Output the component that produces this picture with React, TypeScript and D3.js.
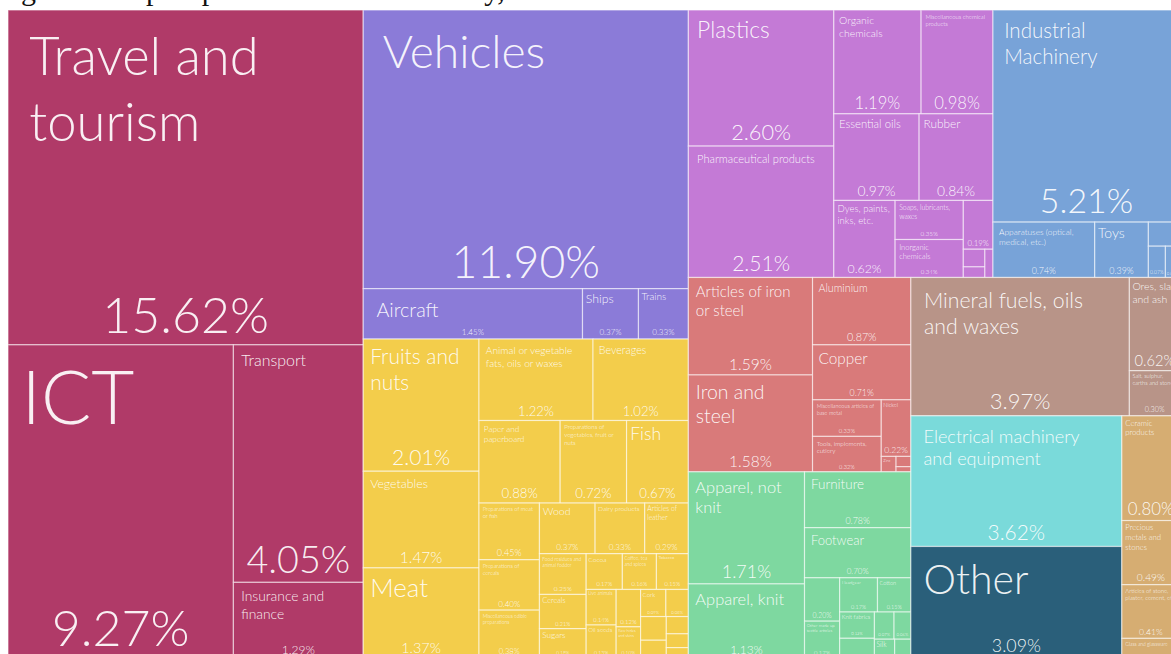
import React from "react";
import * as d3 from "d3";

type Item = { name: string; value: number };

// ---------- DATA ----------
const groupNames = [
  "Services",
  "Vehicles",
  "Foodstuffs",
  "Chemicals",
  "Machines",
  "Metals",
  "Textiles and footwear",
  "Mineral products",
  "Electrical machinery",
  "Other",
  "Stone and glass",
];

const groupColors = [
  "#b03a68",
  "#8b7bd8",
  "#f3cd4b",
  "#c47ad6",
  "#78a3d8",
  "#d97a7a",
  "#7ed8a0",
  "#b89488",
  "#7adada",
  "#2a5f7a",
  "#d6ad72",
];

const services: Item[] = [
  { name: "Travel and tourism", value: 15.62 },
  { name: "ICT", value: 9.27 },
  { name: "Transport", value: 4.05 },
  { name: "Insurance and finance", value: 1.29 },
];

const vehicles: Item[] = [
  { name: "Vehicles", value: 11.9 },
  { name: "Aircraft", value: 1.45 },
  { name: "Ships", value: 0.37 },
  { name: "Trains", value: 0.33 },
];

const foodstuffs: Item[] = [
  { name: "Fruits and nuts", value: 2.01 },
  { name: "Vegetables", value: 1.47 },
  { name: "Meat", value: 1.37 },
  { name: "Animal or vegetable fats, oils or waxes", value: 1.22 },
  { name: "Beverages", value: 1.02 },
  { name: "Paper and paperboard", value: 0.88 },
  { name: "Preparations of vegetables, fruit or nuts", value: 0.72 },
  { name: "Fish", value: 0.67 },
  { name: "Preparations of meat or fish", value: 0.45 },
  { name: "Preparations of cereals", value: 0.4 },
  { name: "Miscellaneous edible preparations", value: 0.38 },
  { name: "Wood", value: 0.37 },
  { name: "Dairy products", value: 0.33 },
  { name: "Articles of leather", value: 0.29 },
  { name: "Food residues and animal fodder", value: 0.25 },
  { name: "Cereals", value: 0.21 },
  { name: "Sugars", value: 0.18 },
  { name: "Cocoa", value: 0.17 },
  { name: "Coffee, tea and spices", value: 0.16 },
  { name: "Tobacco", value: 0.15 },
  { name: "Live animals", value: 0.14 },
  { name: "Oil seeds", value: 0.13 },
  { name: "Milling products", value: 0.12 },
  { name: "Raw hides and skins", value: 0.1 },
  { name: "Cork", value: 0.09 },
  { name: "Lac, gums, resins", value: 0.08 },
  { name: "Live trees and plants", value: 0.08 },
  { name: "Animal products", value: 0.06 },
  { name: "Pulp of wood", value: 0.05 },
  { name: "Straw products", value: 0.04 },
  { name: "Vegetable plaiting materials", value: 0.03 },
];

const chemicals: Item[] = [
  { name: "Plastics", value: 2.6 },
  { name: "Pharmaceutical products", value: 2.51 },
  { name: "Organic chemicals", value: 1.19 },
  { name: "Miscellaneous chemical products", value: 0.98 },
  { name: "Essential oils", value: 0.97 },
  { name: "Rubber", value: 0.84 },
  { name: "Dyes, paints, inks, etc.", value: 0.62 },
  { name: "Soaps, lubricants, waxes", value: 0.35 },
  { name: "Inorganic chemicals", value: 0.34 },
  { name: "Fertilizers", value: 0.19 },
  { name: "Albuminoidal substances", value: 0.05 },
  { name: "Photographic goods", value: 0.03 },
  { name: "Explosives", value: 0.03 },
];

const machines: Item[] = [
  { name: "Industrial Machinery", value: 5.21 },
  { name: "Apparatuses (optical, medical, etc.)", value: 0.74 },
  { name: "Toys", value: 0.39 },
  { name: "Miscellaneous manufactured articles", value: 0.1 },
  { name: "Clocks and watches", value: 0.07 },
  { name: "Musical instruments", value: 0.06 },
];

const metals: Item[] = [
  { name: "Articles of iron or steel", value: 1.59 },
  { name: "Iron and steel", value: 1.58 },
  { name: "Aluminium", value: 0.87 },
  { name: "Copper", value: 0.71 },
  { name: "Miscellaneous articles of base metal", value: 0.33 },
  { name: "Tools, implements, cutlery", value: 0.32 },
  { name: "Nickel", value: 0.22 },
  { name: "Zinc", value: 0.03 },
  { name: "Lead", value: 0.02 },
  { name: "Tin", value: 0.01 },
];

const textiles: Item[] = [
  { name: "Apparel, not knit", value: 1.71 },
  { name: "Apparel, knit", value: 1.13 },
  { name: "Furniture", value: 0.78 },
  { name: "Footwear", value: 0.7 },
  { name: "Man-made staple fibres", value: 0.2 },
  { name: "Other made up textile articles", value: 0.17 },
  { name: "Headgear", value: 0.17 },
  { name: "Cotton", value: 0.15 },
  { name: "Knit fabrics", value: 0.12 },
  { name: "Synthetic filaments", value: 0.09 },
  { name: "Carpets", value: 0.07 },
  { name: "Wool", value: 0.06 },
  { name: "Silk", value: 0.05 },
  { name: "Umbrellas", value: 0.04 },
];

const minerals: Item[] = [
  { name: "Mineral fuels, oils and waxes", value: 3.97 },
  { name: "Ores, slag and ash", value: 0.62 },
  { name: "Salt, sulphur, earths and stone", value: 0.3 },
];

const electrical: Item[] = [
  { name: "Electrical machinery and equipment", value: 3.62 },
];

const other: Item[] = [{ name: "Other", value: 3.09 }];

const stone: Item[] = [
  { name: "Ceramic products", value: 0.8 },
  { name: "Precious metals and stones", value: 0.49 },
  { name: "Articles of stone, plaster, cement, etc.", value: 0.41 },
  { name: "Glass and glassware", value: 0.15 },
];

const groupItems: Item[][] = [
  services,
  vehicles,
  foodstuffs,
  chemicals,
  machines,
  metals,
  textiles,
  minerals,
  electrical,
  other,
  stone,
];

const titleText = "Figure 1: Export products of the economy, 2019";

// ---------- LAYOUT ----------
const WIDTH = 1171;
const HEIGHT = 654;
const X0 = 8;
const Y0 = 10;
const X1 = 1180;
const Y1 = 658;

const FONT = "Lato, 'Open Sans', 'DejaVu Sans', sans-serif";
const WEIGHT = 300;

let ctx: CanvasRenderingContext2D | null = null;
function measure(text: string, size: number): number {
  if (!ctx) ctx = document.createElement("canvas").getContext("2d");
  if (!ctx) return text.length * size * 0.5;
  ctx.font = `${WEIGHT} ${size}px ${FONT}`;
  return ctx.measureText(text).width;
}

function wrap(words: string[], size: number, maxW: number): string[] {
  const lines: string[] = [];
  let cur = "";
  for (const w of words) {
    const t = cur ? cur + " " + w : w;
    if (!cur || measure(t, size) <= maxW) cur = t;
    else {
      lines.push(cur);
      cur = w;
    }
  }
  if (cur) lines.push(cur);
  return lines;
}

type Label = {
  lines: string[];
  size: number;
  pad: number;
  pct: string;
  pctSize: number;
};

function makeLabel(name: string, value: number, w: number, h: number): Label {
  const pad = Math.max(2, 0.06 * w);
  const pct = value.toFixed(2) + "%";
  const pw1 = measure(pct, 1);
  let pctSize = Math.min(50, 0.16 * h, (0.8 * w) / pw1);
  if (pctSize < 4) pctSize = 0;
  const words = name.split(/\s+/);
  const lw = d3.max(words, (d) => measure(d, 1)) || 1;
  const tw = measure(name, 1);
  let s = Math.min(100, (0.5 * w) / lw, Math.sqrt((0.22 * w * h) / (tw * 1.2)));
  const availH = h - pad - (pctSize ? pctSize * 1.3 : 0) - 2;
  const maxW = w - 2 * pad;
  let lines = wrap(words, s, maxW);
  while (lines.length * s * 1.25 > availH && s > 5) {
    s *= 0.92;
    lines = wrap(words, s, maxW);
  }
  if (lines.length * s * 1.25 > availH) {
    const n = Math.floor(availH / (s * 1.25));
    if (n < 1) lines = [];
    else {
      lines = lines.slice(0, n);
      let last = lines[n - 1] + "...";
      while (last.length > 4 && measure(last, s) > maxW) {
        last = last.slice(0, -4) + "...";
      }
      lines[n - 1] = last;
    }
  }
  if (s < 4) lines = [];
  return { lines, size: s, pad, pct, pctSize };
}

type Node = { name: string; value?: number; group?: number; children?: Node[] };

export default function App() {
  const rootData: Node = {
    name: "root",
    children: groupNames.map((g, i) => ({
      name: g,
      group: i,
      children: groupItems[i].map((d) => ({ name: d.name, value: d.value, group: i })),
    })),
  };

  const root = d3
    .hierarchy<Node>(rootData)
    .sum((d) => (d.children ? 0 : d.value || 0))
    .sort((a, b) => (b.value || 0) - (a.value || 0));

  d3
    .treemap<Node>()
    .tile(d3.treemapSquarify.ratio(1))
    .size([X1 - X0, Y1 - Y0])
    .paddingInner(0)
    .round(false)(root);

  const leaves = root.leaves() as d3.HierarchyRectangularNode<Node>[];

  return (
    <svg
      width={WIDTH}
      height={HEIGHT}
      style={{ position: "absolute", left: 0, top: 0, background: "#fff" }}
    >
      <text
        x={-4}
        y={0}
        fontFamily="'Liberation Serif', 'DejaVu Serif', serif"
        fontSize={30}
        fill="#111"
      >
        {titleText}
      </text>
      <g transform={`translate(${X0},${Y0})`}>
        {leaves.map((d, i) => (
          <rect
            key={"r" + i}
            x={d.x0}
            y={d.y0}
            width={d.x1 - d.x0}
            height={d.y1 - d.y0}
            fill={groupColors[d.data.group || 0]}
            stroke="rgba(255,255,255,0.55)"
            strokeWidth={1.2}
          />
        ))}
        {leaves.map((d, i) => {
          const w = d.x1 - d.x0;
          const h = d.y1 - d.y0;
          const lab = makeLabel(d.data.name, d.data.value || 0, w, h);
          return (
            <g key={"t" + i} fill="#fff" fontFamily={FONT} fontWeight={WEIGHT}>
              {lab.lines.map((ln, j) => (
                <text
                  key={j}
                  x={d.x0 + lab.pad}
                  y={d.y0 + lab.pad * 0.8 + lab.size * 0.92 + j * lab.size * 1.25}
                  fontSize={lab.size}
                  fillOpacity={0.92}
                >
                  {ln}
                </text>
              ))}
              {lab.pctSize > 0 && (
                <text
                  x={(d.x0 + d.x1) / 2}
                  y={d.y1 - lab.pctSize * 0.2 - 2}
                  fontSize={lab.pctSize}
                  textAnchor="middle"
                  fillOpacity={0.92}
                >
                  {lab.pct}
                </text>
              )}
            </g>
          );
        })}
      </g>
    </svg>
  );
}
